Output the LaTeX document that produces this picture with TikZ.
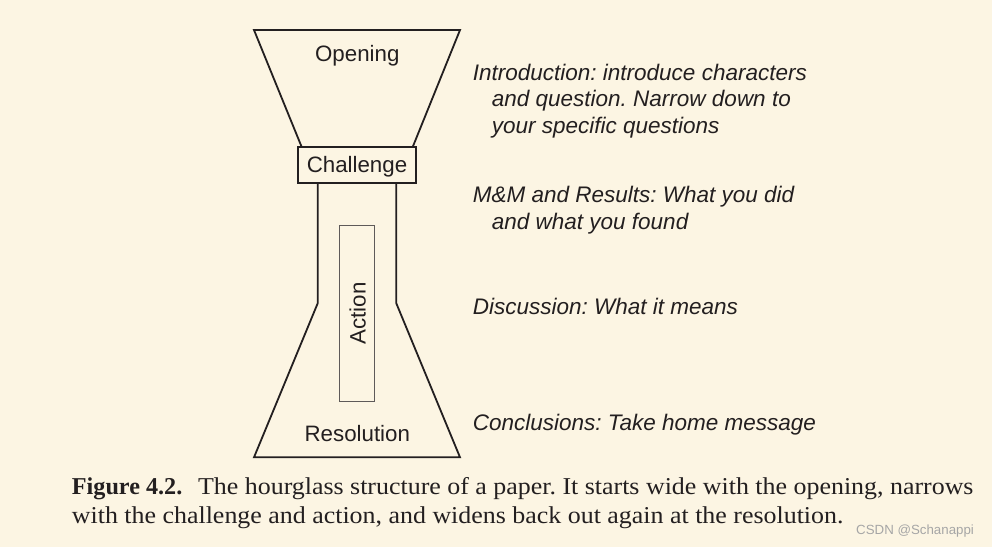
\documentclass[tikz,border=0pt]{standalone}
\usepackage{fontspec}
\setmainfont[FakeStretch=1.071, BoldFeatures={FakeStretch=1.0}]{Liberation Serif}
\setsansfont{Liberation Sans}
\frenchspacing
\definecolor{bg}{HTML}{FCF5E3}
\definecolor{ink}{HTML}{231F20}
\definecolor{boxgray}{HTML}{5E5A59}
\definecolor{wm}{HTML}{A6A6A6}
\tikzset{
  outline/.style={draw=ink, line width=1.8pt, line join=miter},
  lbl/.style={font=\sffamily\fontsize{22.3}{26.7}\selectfont, text=ink, inner sep=0pt},
  note/.style={font=\sffamily\itshape\fontsize{22.5}{26.6}\selectfont, text=ink, inner sep=0pt, align=left, anchor=base west},
  capt/.style={font=\fontsize{24.2}{29}\selectfont, text=ink, inner sep=0pt, align=left, anchor=base west},
}
\begin{document}
\begin{tikzpicture}[x=1pt,y=-1pt]
\fill[bg] (0,0) rectangle (992,547);
\useasboundingbox (0,0) rectangle (992,547);
% funnel top
\draw[outline] (301.7,147) -- (254,30) -- (460,30) -- (412.7,147);
% challenge box
\node[outline, lbl, minimum width=117.4pt, minimum height=36.3pt] (challenge) at (357,165.2) {};
\node[lbl, anchor=base] (challengetext) at (357,172.3) {Challenge};
% neck and flare
\draw[outline] (317.7,183.3) -- (317.7,303.3) -- (254,457.3) -- (460,457.3) -- (396.3,303.3) -- (396.3,183.3);
% action box
\node[draw=boxgray, line width=0.9pt, inner sep=0pt, minimum width=35.4pt, minimum height=176.7pt] (actionbox) at (357,313.35) {};
\node[lbl, rotate=90, anchor=base] (action) at (365.6,313.3) {Action};
\node[lbl, anchor=base] (opening) at (357.3,61) {Opening};
\node[lbl, anchor=base] (resolution) at (357.3,441.7) {Resolution};
% notes (base anchor = last line's baseline)
\node[note] (intro) at (472.7,133.2) {Introduction: introduce characters\\\hspace*{19pt}and question. Narrow down to\\\hspace*{19pt}your specific questions};
\node[note] (mm) at (472.7,229.3) {M\&M and Results: What you did\\\hspace*{19pt}and what you found};
\node[note] (disc) at (472.7,314.3) {Discussion: What it means};
\node[note] (concl) at (472.7,430) {Conclusions: Take home message};
% caption
\node[capt] (caption) at (71.7,523.3) {\textbf{Figure 4.2.}\hspace{0.65em}The hourglass structure of a paper. It starts wide with the opening, narrows\\with the challenge and action, and widens back out again at the resolution.};
\node[font=\sffamily\fontsize{13.3}{15}\selectfont, text=wm, inner sep=0pt, anchor=base west] (watermark) at (856,534) {CSDN @Schanappi};
\end{tikzpicture}
\end{document}
